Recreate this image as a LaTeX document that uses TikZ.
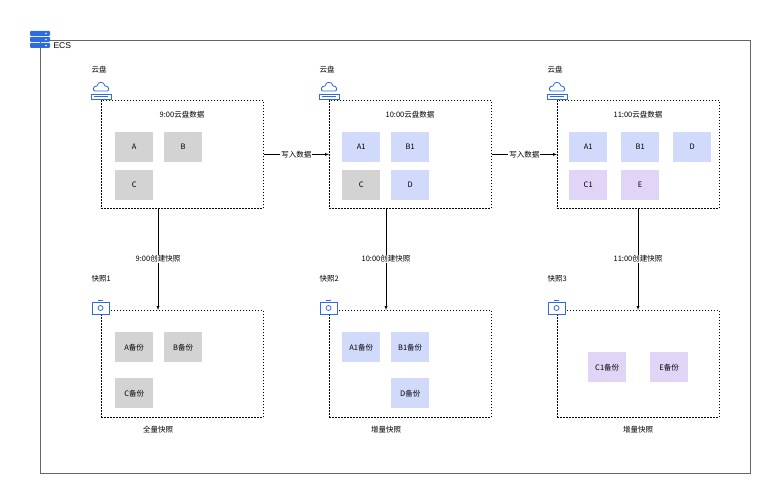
\documentclass[tikz,border=0pt]{standalone}
\usepackage{fontspec}
\setmainfont{Liberation Sans}
\newfontfamily\cjk{Noto Sans CJK SC}
\definecolor{gr}{HTML}{D3D3D3}
\definecolor{bl}{HTML}{D2DAFB}
\definecolor{pu}{HTML}{E1D5F7}
\definecolor{ic}{HTML}{2F6BE0}
\begin{document}
\begin{tikzpicture}[x=1pt,y=-1pt,font=\cjk\fontsize{7.5}{9}\selectfont,
  box/.style={draw,densely dashed,dash pattern=on 1.5pt off 1.5pt,thick,minimum width=162pt,minimum height=108pt,anchor=north west,inner sep=0},
  sq/.style={fill=#1,minimum width=38pt,minimum height=30pt,anchor=north west,inner sep=0},
  arr/.style={-latex,thin},
  lab/.style={fill=white,inner sep=1pt}]
\useasboundingbox (0,0) rectangle (774,500);
\fill[white] (0,0) rectangle (774,500);
\node[draw,thick,gray!80!black,minimum width=710pt,minimum height=433pt,anchor=north west,inner sep=0] (ecs) at (40,40) {};
% ECS icon
\foreach \k in {0,1,2}{\fill[ic,rounded corners=1pt] (30,31+\k*6) rectangle (50,36+\k*6);
 \fill[white] (46,33.5+\k*6) circle (0.8);}
\node[anchor=west,font=\fontsize{8.5}{10}\selectfont] (ecsl) at (50,46) {ECS};
% disk boxes
\foreach \n/\x in {1/101,2/329,3/557}{
 \node[box] (d\n) at (\x,100) {};
 \node[box,minimum height=107pt] (s\n) at (\x,310) {};
 \node[anchor=west] (dl\n) at (\x-13,70) {云盘};
 \draw[ic,thick] (\x-6,91) .. controls (\x-9,91) and (\x-8,85.5) .. (\x-4,86) .. controls (\x-3,81) and (\x+3,81) .. (\x+4,86) .. controls (\x+8,85.5) and (\x+9,91) .. (\x+6,91) -- cycle;
 \draw[ic,thick,fill=white] (\x-10,94) rectangle (\x+10,99);
 \fill[ic] (\x-7,96.2) rectangle (\x+7,96.8);
}
\coordinate (v1a) at (158,208); \coordinate (v1b) at (158,310);
\coordinate (v2a) at (386,208); \coordinate (v2b) at (386,310);
\coordinate (v3a) at (638,208); \coordinate (v3b) at (638,310);
\node (t1) at (182,115) {9:00云盘数据};
\node (t2) at (410,115) {10:00云盘数据};
\node (t3) at (638,115) {11:00云盘数据};
\node[sq=gr] (qa) at (115,132) {A};
\node[sq=gr] (qb) at (164,132) {B};
\node[sq=gr] (qc) at (115,170) {C};
\node[sq=bl] (qa1) at (342,132) {A1};
\node[sq=bl] (qb1) at (391,132) {B1};
\node[sq=gr] (qc2) at (342,170) {C};
\node[sq=bl] (qd2) at (391,170) {D};
\node[sq=bl] (qa13) at (569,132) {A1};
\node[sq=bl] (qb13) at (621,132) {B1};
\node[sq=bl] (qd3) at (673,132) {D};
\node[sq=pu] (qc13) at (569,170) {C1};
\node[sq=pu] (qe3) at (621,170) {E};
% snapshot icons and labels
\foreach \n/\x in {1/101,2/329,3/557}{
 \node[anchor=west] (sl\n) at (\x-13,279) {快照\n};
 \draw[ic,thick,fill=white] (\x-9,302) rectangle (\x+8,314);
 \draw[ic,thick] (\x-3,300.5) -- (\x+2,300.5);
 \draw[ic,thick] (\x-0.5,308) circle (2.5);
}
\node[sq=gr] (ab) at (115,332) {A备份};
\node[sq=gr] (bb) at (164,332) {B备份};
\node[sq=gr] (cb) at (115,378) {C备份};
\node[sq=bl] (a1b) at (342,332) {A1备份};
\node[sq=bl] (b1b) at (391,332) {B1备份};
\node[sq=bl] (db) at (391,378) {D备份};
\node[sq=pu] (c1b) at (588,352) {C1备份};
\node[sq=pu] (eb) at (650,352) {E备份};
\node (f1) at (158,430) {全量快照};
\node (f2) at (386,430) {增量快照};
\node (f3) at (638,430) {增量快照};
% connectors
\draw[arr] (d1.east) -- node[lab]{写入数据} (d2.west);
\draw[arr] (d2.east) -- node[lab]{写入数据} (d3.west);
\draw[arr] (v1a) -- node[lab]{9:00创建快照} (v1b);
\draw[arr] (v2a) -- node[lab]{10:00创建快照} (v2b);
\draw[arr] (v3a) -- node[lab]{11:00创建快照} (v3b);
\end{tikzpicture}
\end{document}
